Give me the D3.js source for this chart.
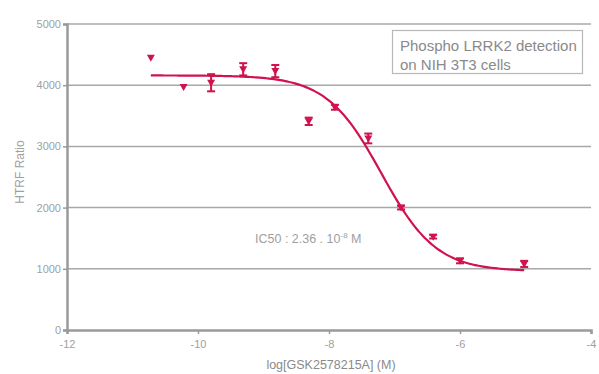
<!DOCTYPE html>
<html><head><meta charset="utf-8">
<script src="https://cdn.jsdelivr.net/npm/d3@7"></script>
<style>body{margin:0;background:#fff}svg{display:block}</style>
</head><body><svg id="c" width="599" height="374"></svg>
<script>
const logConc = [-10.72,-10.22,-9.8,-9.31,-8.82,-8.31,-7.91,-7.4,-6.9,-6.41,-6.0,-5.02];
const ratio   = [4450,3970,4040,4260,4230,3410,3640,3130,2000,1525,1130,1080];
const errs    = [0,0,140,100,100,60,40,80,30,30,40,50];
const fitTop = 4160, fitBottom = 960, fitLogIC50 = -7.2, fitHill = 1.04;
const fitRange = [-10.72,-5.02];
const xTicks = [-12,-10,-8,-6,-4];
const yTicks = [0,1000,2000,3000,4000,5000];
const xTitle = "log[GSK2578215A] (M)";
const yTitle = "HTRF Ratio";
const legendLines = ["Phospho LRRK2 detection","on NIH 3T3 cells"];
const ic50Label = ["IC50 : 2.36 . 10","-8"," M"];

const svg = d3.select("#c");
const x = d3.scaleLinear().domain([-12,-4]).range([67,591]);
const y = d3.scaleLinear().domain([0,5000]).range([330,24]);
const red = "#d0124e", grey="#9a9a9a", font="'Liberation Sans Narrow','Liberation Sans',Arial,sans-serif";

// gridlines
svg.append("g").selectAll("line").data(yTicks.filter(d=>d>0)).join("line")
  .attr("x1",x(-12)).attr("x2",x(-4)).attr("y1",d=>y(d)).attr("y2",d=>y(d))
  .attr("stroke","#a8a8a8").attr("stroke-width",1.5);

// axes
const ya = svg.append("g").attr("transform",`translate(${x(-12)},0)`)
  .call(d3.axisLeft(y).tickValues(yTicks).tickSize(4).tickPadding(2).tickFormat(d3.format("d")));
const xa = svg.append("g").attr("transform",`translate(0,${y(0)})`)
  .call(d3.axisBottom(x).tickValues(xTicks).tickSize(4).tickPadding(6).tickFormat(d=>d));
[ya,xa].forEach(a=>{
  a.select(".domain").attr("stroke",grey).attr("stroke-width",2.5);
  a.selectAll(".tick line").attr("stroke",grey).attr("stroke-width",1.5);
  a.selectAll("text").attr("fill","#a0a0a0").attr("font-family",font).attr("font-size",11);
});

// titles
svg.append("text").attr("transform","translate(24,172) rotate(-90)").attr("text-anchor","middle")
  .attr("font-family",font).attr("font-size",12).attr("fill","#a0a0a0").text(yTitle);
svg.append("text").attr("x",331).attr("y",369).attr("text-anchor","middle")
  .attr("font-family","'Liberation Sans',Arial,sans-serif").attr("font-size",12.5).attr("fill","#8a8a8a").text(xTitle);

// legend box
svg.append("rect").attr("x",392.5).attr("y",30.5).attr("width",190).attr("height",43)
  .attr("fill","#fff").attr("stroke","#b8b8b8").attr("stroke-width",1.2);
legendLines.forEach((t,i)=>svg.append("text").attr("x",400).attr("y",51+i*19)
  .attr("font-family",font).attr("font-size",15).attr("fill","#8a8a8a").text(t));

// IC50 label
const ic = svg.append("text").attr("x",255).attr("y",243).attr("font-family",font)
  .attr("font-size",12.5).attr("fill","#a0a0a0");
ic.append("tspan").text(ic50Label[0]);
ic.append("tspan").attr("dy",-5).attr("font-size",8).text(ic50Label[1]);
ic.append("tspan").attr("dy",5).text(ic50Label[2]);

// fit curve
const fit = v => fitBottom + (fitTop-fitBottom)/(1+Math.pow(10,(v-fitLogIC50)*fitHill));
const xs = d3.range(fitRange[0], fitRange[1]+0.001, 0.05);
svg.append("path").datum(xs).attr("fill","none").attr("stroke",red).attr("stroke-width",2.2)
  .attr("d", d3.line().x(d=>x(d)).y(d=>y(fit(d))).curve(d3.curveBasis));

// error bars
const pts = logConc.map((v,i)=>({x:v,y:ratio[i],e:errs[i]}));
const eb = svg.append("g").attr("stroke",red).attr("stroke-width",2);
pts.filter(d=>d.e>0).forEach(d=>{
  eb.append("line").attr("x1",x(d.x)).attr("x2",x(d.x)).attr("y1",y(d.y+d.e)).attr("y2",y(d.y-d.e));
  [d.y+d.e,d.y-d.e].forEach(v=>eb.append("line").attr("x1",x(d.x)-4).attr("x2",x(d.x)+4).attr("y1",y(v)).attr("y2",y(v)));
});
// markers
svg.append("g").selectAll("path").data(pts).join("path")
  .attr("transform",d=>`translate(${x(d.x)},${y(d.y)})`)
  .attr("d","M-4,-3L4,-3L0,4Z").attr("fill",red);
</script></body></html>
